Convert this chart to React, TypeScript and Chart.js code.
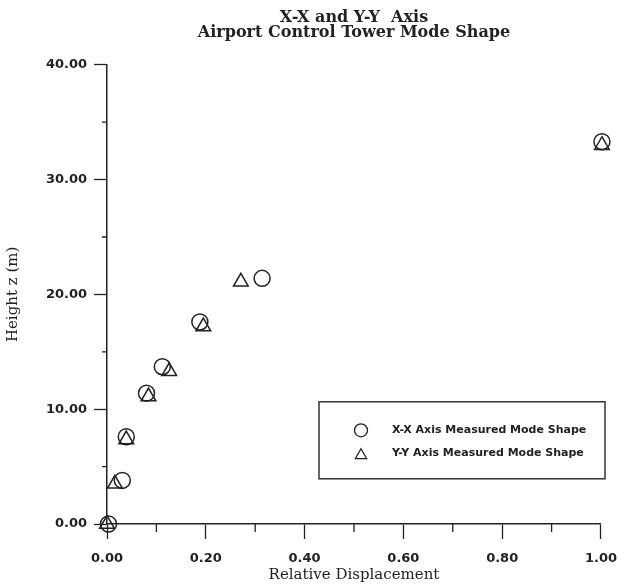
import React, { useEffect, useRef } from 'react';
import { Chart, registerables } from 'chart.js';

Chart.register(...registerables);

const chartTitle = ['X-X and Y-Y  Axis', 'Airport Control Tower Mode Shape'];
const xAxisTitle = 'Relative Displacement';
const yAxisTitle = 'Height z (m)';
const xxLabel = 'X-X Axis Measured Mode Shape';
const yyLabel = 'Y-Y Axis Measured Mode Shape';

// X-X axis measured mode shape (circles)
const xxDisp = [0.003, 0.031, 0.039, 0.080, 0.112, 0.188, 0.314, 1.002];
const xxHeight = [0.0, 3.8, 7.6, 11.4, 13.7, 17.6, 21.4, 33.3];

// Y-Y axis measured mode shape (triangles)
const yyDisp = [0.0, 0.016, 0.039, 0.084, 0.126, 0.195, 0.271, 1.002];
const yyHeight = [0.0, 3.5, 7.35, 11.1, 13.3, 17.2, 21.1, 33.0];

const xMajorTicks = [0, 0.2, 0.4, 0.6, 0.8, 1.0];
const xMinorTicks = [0.1, 0.3, 0.5, 0.7, 0.9];
const yMajorTicks = [0, 10, 20, 30, 40];
const yMinorTicks = [5, 15, 25, 35];

const INK = '#222222';

const extrasPlugin = {
  id: 'extras',
  afterDraw(chart: any) {
    const { ctx, chartArea, scales } = chart;
    const xs = scales.x;
    const ys = scales.y;
    ctx.save();
    ctx.strokeStyle = INK;
    ctx.lineWidth = 1.3;
    ctx.beginPath();
    xMinorTicks.forEach((v) => {
      const px = xs.getPixelForValue(v);
      ctx.moveTo(px, chartArea.bottom);
      ctx.lineTo(px, chartArea.bottom + 8);
    });
    yMinorTicks.forEach((v) => {
      const py = ys.getPixelForValue(v);
      ctx.moveTo(chartArea.left - 5, py);
      ctx.lineTo(chartArea.left, py);
    });
    ctx.stroke();

    // legend box
    const bx = chartArea.left + 212;
    const by = chartArea.top + 337;
    const bw = 286;
    const bh = 77;
    ctx.lineWidth = 1.5;
    ctx.strokeStyle = '#333';
    ctx.strokeRect(bx, by, bw, bh);

    const mx = bx + 42;
    const tx = bx + 73;
    const y1 = by + 28.5;
    const y2 = by + 51.5;

    ctx.lineWidth = 1.3;
    ctx.strokeStyle = INK;
    // circle
    ctx.beginPath();
    ctx.arc(mx, y1, 6.5, 0, Math.PI * 2);
    ctx.stroke();
    // triangle (circumcentred)
    const r = 6.5;
    const cy = y2 + 2;
    ctx.beginPath();
    ctx.moveTo(mx, cy - r);
    ctx.lineTo(mx + r * Math.sin((2 * Math.PI) / 3), cy - r * Math.cos((2 * Math.PI) / 3));
    ctx.lineTo(mx + r * Math.sin((4 * Math.PI) / 3), cy - r * Math.cos((4 * Math.PI) / 3));
    ctx.closePath();
    ctx.stroke();

    ctx.fillStyle = INK;
    ctx.font = 'bold 11px "DejaVu Sans"';
    ctx.textBaseline = 'middle';
    ctx.textAlign = 'left';
    const labels = chart.data.datasets.map((d: any) => d.label);
    ctx.fillText(labels[0], tx, y1);
    ctx.fillText(labels[1], tx, y2);
    ctx.restore();
  },
};

export default function App() {
  const canvasRef = useRef<HTMLCanvasElement | null>(null);

  useEffect(() => {
    if (!canvasRef.current) return;
    const chart = new Chart(canvasRef.current, {
      type: 'scatter',
      data: {
        datasets: [
          {
            label: xxLabel,
            data: xxDisp.map((x, i) => ({ x, y: xxHeight[i] })),
            pointStyle: 'circle',
            pointRadius: 8,
            pointBorderWidth: 1.5,
            borderColor: INK,
            backgroundColor: 'rgba(0,0,0,0)',
            showLine: false,
            clip: false as any,
          },
          {
            label: yyLabel,
            data: yyDisp.map((x, i) => ({ x, y: yyHeight[i] })),
            pointStyle: 'triangle',
            pointRadius: 8.5,
            pointBorderWidth: 1.5,
            borderColor: INK,
            backgroundColor: 'rgba(0,0,0,0)',
            showLine: false,
            clip: false as any,
          },
        ],
      },
      options: {
        animation: false,
        responsive: false,
        devicePixelRatio: 1,
        layout: { padding: { left: 0, right: 18, top: 0, bottom: 0 } },
        plugins: {
          legend: { display: false },
          tooltip: { enabled: false },
          title: {
            display: true,
            fullSize: false,
            text: chartTitle,
            color: INK,
            font: { family: 'DejaVu Serif', size: 16, weight: 'bold', lineHeight: 0.97 },
            padding: { top: 9.75, bottom: 24 },
          },
        },
        scales: {
          x: {
            type: 'linear',
            min: 0,
            max: 1,
            afterBuildTicks: (s: any) => {
              s.ticks = xMajorTicks.map((v) => ({ value: v }));
            },
            afterFit: (s: any) => {
              s.height = 63;
            },
            ticks: {
              callback: (v: any) => Number(v).toFixed(2),
              color: INK,
              font: { family: 'DejaVu Sans', size: 13, weight: 'bold' },
              padding: 12,
              maxRotation: 0,
              autoSkip: false,
            },
            grid: {
              drawOnChartArea: false,
              drawTicks: true,
              tickLength: 15,
              tickColor: INK,
              tickWidth: 1.3,
            },
            border: { display: true, color: INK, width: 1.5 },
            title: {
              display: true,
              text: xAxisTitle,
              color: INK,
              font: { family: 'DejaVu Serif', size: 15, lineHeight: 1.2 },
              padding: { top: 0, bottom: 2.5 },
            },
          },
          y: {
            type: 'linear',
            min: 0,
            max: 40,
            afterBuildTicks: (s: any) => {
              s.ticks = yMajorTicks.map((v) => ({ value: v }));
            },
            afterFit: (s: any) => {
              s.width = 107;
            },
            ticks: {
              callback: (v: any) => Number(v).toFixed(2),
              color: INK,
              font: { family: 'DejaVu Sans', size: 13, weight: 'bold' },
              padding: 7,
              autoSkip: false,
            },
            grid: {
              drawOnChartArea: false,
              drawTicks: true,
              tickLength: 13,
              tickColor: INK,
              tickWidth: 1.3,
            },
            border: { display: true, color: INK, width: 1.5 },
            title: {
              display: true,
              text: yAxisTitle,
              color: INK,
              font: { family: 'DejaVu Serif', size: 15, lineHeight: 1.2 },
              padding: { top: 4, bottom: 0 },
            },
          },
        },
      },
      plugins: [extrasPlugin],
    });
    return () => chart.destroy();
  }, []);

  return (
    <div style={{ position: 'absolute', left: 0, top: 0, width: 629, height: 587, background: '#fff' }}>
      <canvas ref={canvasRef} width={629} height={587} style={{ display: 'block' }} />
    </div>
  );
}
